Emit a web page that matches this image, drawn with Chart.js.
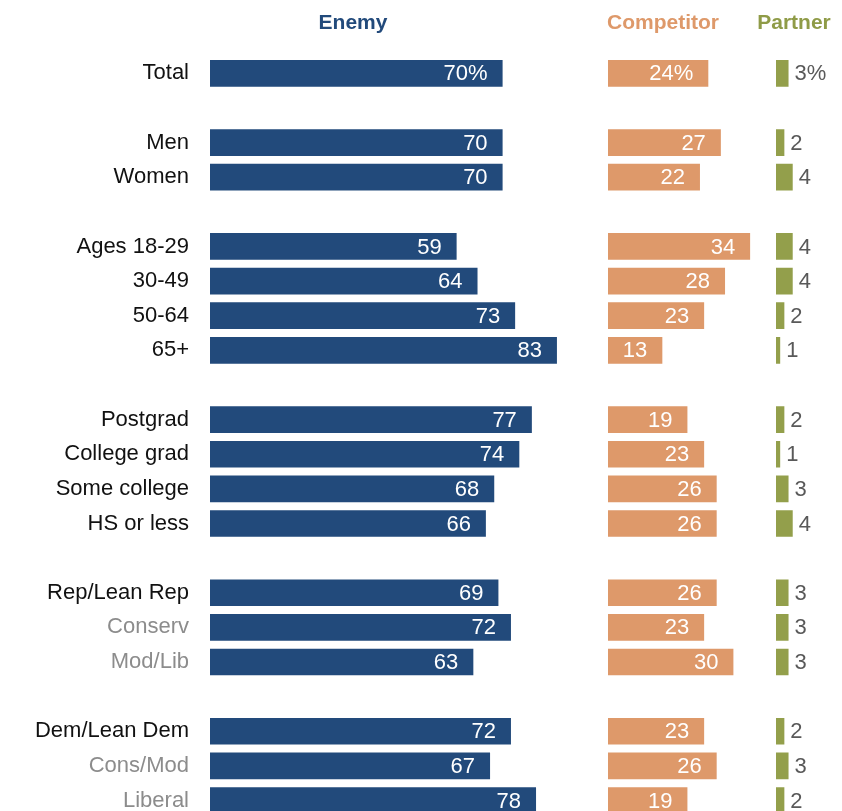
<!DOCTYPE html>
<html>
<head>
<meta charset="utf-8">
<script src="https://cdn.jsdelivr.net/npm/chart.js@4.4.1/dist/chart.umd.min.js"></script>
<style>
  html, body { margin: 0; padding: 0; background: #ffffff; overflow: hidden; }
  #wrap { position: relative; width: 842px; height: 852px; }
</style>
</head>
<body>
<div id="wrap"><canvas id="c" width="842" height="852"></canvas></div>
<script>
// ---- data ----
const categories = ['Total', '', 'Men', 'Women', '', 'Ages 18-29', '30-49', '50-64', '65+', '',
  'Postgrad', 'College grad', 'Some college', 'HS or less', '',
  'Rep/Lean Rep', 'Conserv', 'Mod/Lib', '', 'Dem/Lean Dem', 'Cons/Mod', 'Liberal'];
const subgroupLabels = ['Conserv', 'Mod/Lib', 'Cons/Mod', 'Liberal'];
const enemy =      [70, null, 70, 70, null, 59, 64, 73, 83, null, 77, 74, 68, 66, null, 69, 72, 63, null, 72, 67, 78];
const competitor = [24, null, 27, 22, null, 34, 28, 23, 13, null, 19, 23, 26, 26, null, 26, 23, 30, null, 23, 26, 19];
const partner =    [3,  null, 2,  4,  null, 4,  4,  2,  1,  null, 2,  1,  3,  4,  null, 3,  3,  3,  null, 2,  3,  2];
const seriesNames = ['Enemy', 'Competitor', 'Partner'];

// ---- layout / style ----
const COLORS = ['#224a7b', '#de996a', '#939f4b'];
const HEAD_COLORS = ['#224a7b', '#de996a', '#8f9b47'];
const AREA_LEFT = 210, AREA_RIGHT = 842;
const PX = 4.18;                    // pixels per percentage point
const COL_START = [210, 608, 776];  // left pixel of each column
const unitsWide = (AREA_RIGHT - AREA_LEFT) / PX;
function colScale(i) {
  const min = -(COL_START[i] - AREA_LEFT) / PX;
  return { type: 'linear', display: false, min: min, max: min + unitsWide, grid: { display: false } };
}

const valueLabels = {
  id: 'valueLabels',
  afterDatasetsDraw(chart) {
    const ctx = chart.ctx;
    ctx.save();
    ctx.font = '22px "Liberation Sans", Arial, sans-serif';
    ctx.textBaseline = 'middle';
    chart.data.datasets.forEach((ds, di) => {
      const meta = chart.getDatasetMeta(di);
      meta.data.forEach((bar, i) => {
        const v = ds.data[i];
        if (v === null || v === undefined) return;
        const txt = String(v) + (i === 0 ? '%' : '');
        if (di < 2) {
          ctx.fillStyle = '#ffffff';
          ctx.textAlign = 'right';
          ctx.fillText(txt, bar.x - 15, bar.y + 1);
        } else {
          ctx.fillStyle = '#595959';
          ctx.textAlign = 'left';
          ctx.fillText(txt, bar.x + 6, bar.y + 1);
        }
      });
    });
    ctx.restore();
  }
};

const headers = {
  id: 'headers',
  afterDraw(chart) {
    const ctx = chart.ctx;
    const centers = [353, 663, 794];
    ctx.save();
    ctx.font = 'bold 21px "Liberation Sans", Arial, sans-serif';
    ctx.textAlign = 'center';
    ctx.textBaseline = 'middle';
    seriesNames.forEach((n, i) => {
      ctx.fillStyle = HEAD_COLORS[i];
      ctx.fillText(n, centers[i], 23);
    });
    ctx.restore();
  }
};

new Chart(document.getElementById('c'), {
  type: 'bar',
  data: {
    labels: categories,
    datasets: [
      { label: seriesNames[0], data: enemy, xAxisID: 'xE', backgroundColor: COLORS[0] },
      { label: seriesNames[1], data: competitor, xAxisID: 'xC', backgroundColor: COLORS[1] },
      { label: seriesNames[2], data: partner, xAxisID: 'xP', backgroundColor: COLORS[2] }
    ]
  },
  options: {
    indexAxis: 'y',
    responsive: false,
    animation: false,
    devicePixelRatio: 1,
    layout: { padding: { top: 56, bottom: 0, left: 0, right: 0 } },
    datasets: { bar: { grouped: false, barPercentage: 0.77, categoryPercentage: 1.0, borderWidth: 0 } },
    plugins: { legend: { display: false }, tooltip: { enabled: false } },
    scales: {
      xE: colScale(0),
      xC: colScale(1),
      xP: colScale(2),
      y: {
        grid: { display: false, drawTicks: false },
        border: { display: false },
        afterFit(s) { s.width = AREA_LEFT; },
        ticks: {
          padding: 21,
          autoSkip: false,
          font: { family: '"Liberation Sans", Arial, sans-serif', size: 22 },
          color: (c) => subgroupLabels.includes(categories[c.index]) ? '#8c8c8c' : '#111111'
        }
      }
    }
  },
  plugins: [valueLabels, headers]
});
</script>
</body>
</html>
